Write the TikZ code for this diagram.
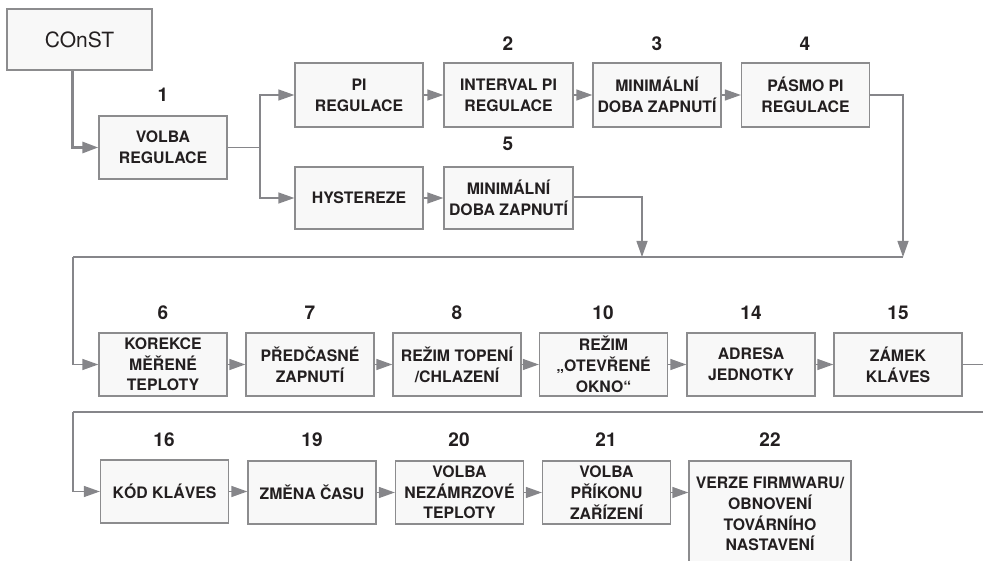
\documentclass[tikz,border=0pt]{standalone}
\usepackage{fontspec}
\setmainfont{TeX Gyre Heros}
\usetikzlibrary{arrows.meta,calc}
\definecolor{boxline}{HTML}{8C8C8E}
\definecolor{boxfill}{HTML}{F8F8F8}
\definecolor{conn}{HTML}{86868A}
\definecolor{ink}{HTML}{231F20}
\begin{document}
\begin{tikzpicture}[x=1pt,y=-1pt,
  stepbox/.style={draw=boxline,fill=boxfill,line width=1.3pt,align=center,text=ink,
    font=\fontsize{15.8}{20.7}\selectfont\bfseries,inner sep=0pt,
    minimum width=128pt,minimum height=63pt},
  num/.style={text=ink,font=\fontsize{19}{22}\selectfont\bfseries,inner sep=0pt},
  conline/.style={draw=conn,line width=1.3pt},
  arr/.style={conline,-{Triangle[length=16pt,width=11pt]}},
]
\useasboundingbox (0,0) rectangle (983,561);

% start box
\node[stepbox,font=\fontsize{21}{24}\selectfont,minimum width=145pt,minimum height=61pt] (const) at (79.5,39.5) {COnST};

% top part
\node[stepbox] (volba) at (163,147.5) {VOLBA\\REGULACE};
\node[stepbox,minimum height=64pt] (pi) at (359,95) {PI\\REGULACE};
\node[stepbox,minimum height=64pt,minimum width=129pt] (interval) at (508.5,95) {INTERVAL PI\\REGULACE};
\node[stepbox,minimum height=64pt] (min3) at (657,95) {MINIMÁLNÍ\\DOBA ZAPNUTÍ};
\node[stepbox,minimum height=64pt] (pasmo) at (805.5,95) {PÁSMO PI\\REGULACE};
\node[stepbox,minimum height=62pt] (hyst) at (359,198) {HYSTEREZE};
\node[stepbox,minimum height=62pt,minimum width=129pt] (min5) at (508.5,198) {MINIMÁLNÍ\\DOBA ZAPNUTÍ};

% second row
\node[stepbox] (kor) at (163,364.5) {KOREKCE\\MĚŘENÉ\\TEPLOTY};
\node[stepbox] (pred) at (310,364.5) {PŘEDČASNÉ\\ZAPNUTÍ};
\node[stepbox] (topeni) at (457,364.5) {REŽIM TOPENÍ\\/CHLAZENÍ};
\node[stepbox] (okno) at (603.5,364.5) {REŽIM\\„OTEVŘENÉ\\OKNO“};
\node[stepbox] (adresa) at (751,364.5) {ADRESA\\JEDNOTKY};
\node[stepbox] (zamek) at (898,364.5) {ZÁMEK\\KLÁVES};

% third row
\node[stepbox] (kod) at (164.5,491.5) {KÓD KLÁVES};
\node[stepbox] (zmena) at (312,492.5) {ZMĚNA ČASU};
\node[stepbox] (nez) at (459.5,492.5) {VOLBA\\NEZÁMRZOVÉ\\TEPLOTY};
\node[stepbox] (prikon) at (606.5,492.5) {VOLBA\\PŘÍKONU\\ZAŘÍZENÍ};
\node[stepbox,minimum width=162pt,minimum height=106pt] (verze) at (770,514) {VERZE FIRMWARU/\\OBNOVENÍ\\TOVÁRNÍHO\\NASTAVENÍ};

% numbers
\node[num] (n1) at (163,95) {1};
\node[num] (n2) at (508,44) {2};
\node[num] (n3) at (657,44) {3};
\node[num] (n4) at (805,44) {4};
\node[num] (n5) at (508,144) {5};
\node[num] (n6) at (163,313) {6};
\node[num] (n7) at (310,313) {7};
\node[num] (n8) at (457,313) {8};
\node[num] (n10) at (603,313) {10};
\node[num] (n14) at (751,313) {14};
\node[num] (n15) at (898,313) {15};
\node[num] (n16) at (164,439.5) {16};
\node[num] (n19) at (312,439.5) {19};
\node[num] (n20) at (459,439.5) {20};
\node[num] (n21) at (606,439.5) {21};
\node[num] (n22) at (770,439.5) {22};

% helper coordinates
\coordinate (split) at (260,147.5);
\coordinate (busR) at (903,257);
\coordinate (busM) at (642,257);
\coordinate (busL) at (73,257);
\coordinate (edgeR) at (988,412);
\coordinate (bus2L) at (73,412);

% connectors
\draw[arr,line width=3pt] ([xshift=-7.5pt]const.south) |- (volba.west);
\draw[conline] (volba.east) -- (split);
\draw[arr] (split) |- (pi.west);
\draw[arr] (split) |- (hyst.west);
\draw[arr] (pi) -- (interval);
\draw[arr] (interval) -- (min3);
\draw[arr] (min3) -- (pasmo);
\draw[arr] (hyst) -- (min5);
\draw[arr] (pasmo.east) -| (busR);
\draw[arr] ([yshift=1pt]min5.east) -| (busM);
\draw[conline] (busR) -- (busL);
\draw[arr] (busL) |- (kor.west);
\draw[arr] (kor) -- (pred);
\draw[arr] (pred) -- (topeni);
\draw[arr] (topeni) -- (okno);
\draw[arr] (okno) -- (adresa);
\draw[arr] (adresa) -- (zamek);
\draw[conline] (zamek.east) -| (edgeR) -- (bus2L);
\draw[arr] (bus2L) |- (kod.west);
\draw[arr] (kod) -- (zmena.west |- kod.east);
\draw[arr] (zmena) -- (nez);
\draw[arr] (nez) -- (prikon);
\draw[arr] (prikon.east) -- (prikon.east -| verze.west);
\end{tikzpicture}
\end{document}
